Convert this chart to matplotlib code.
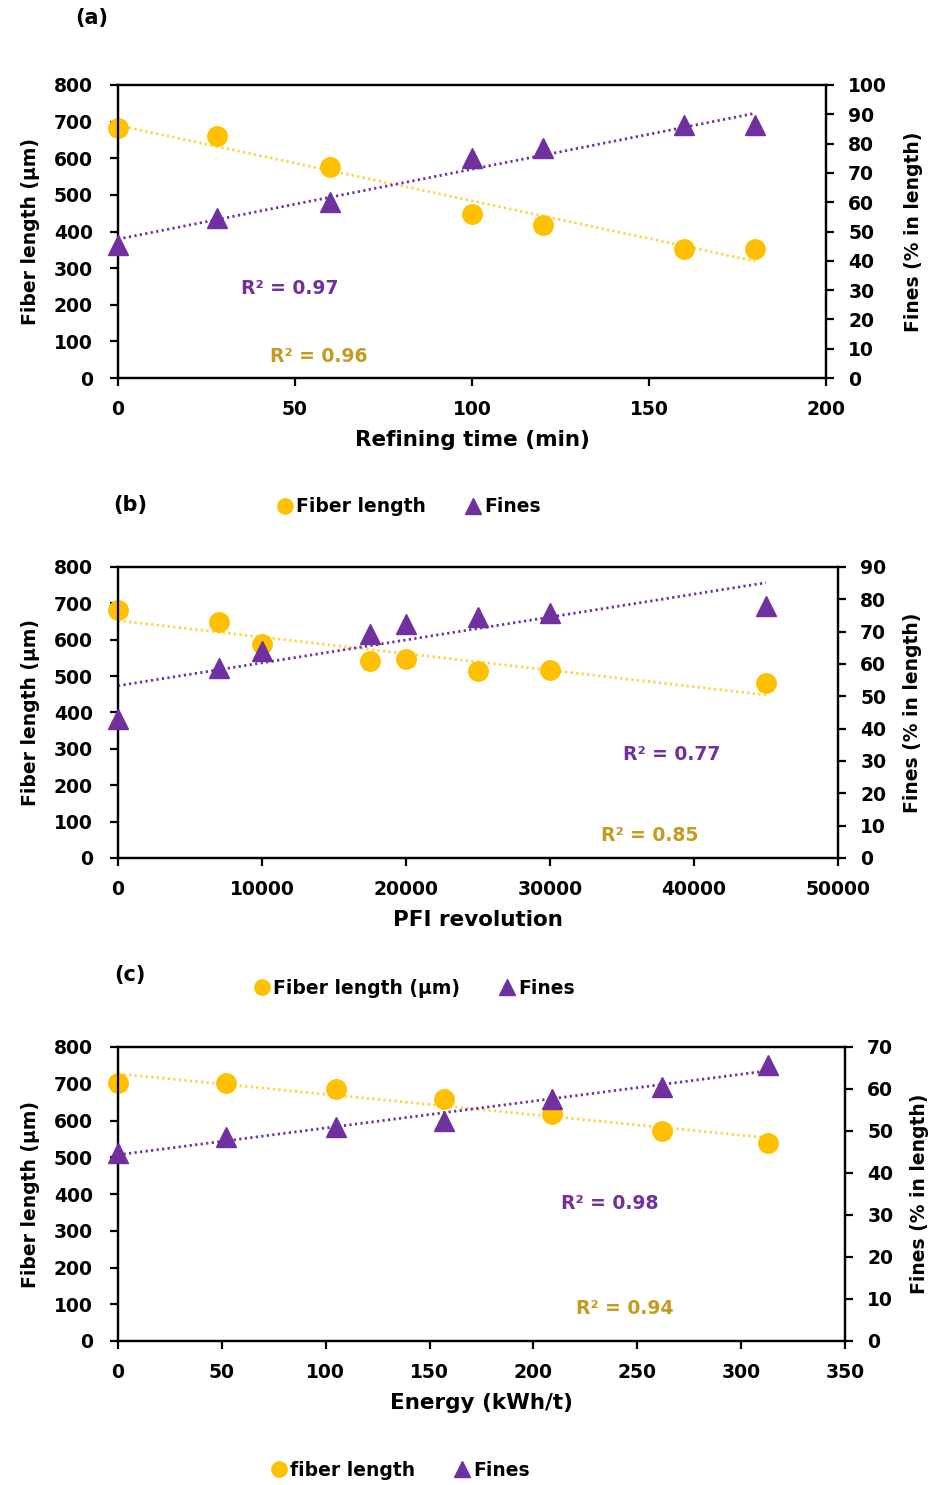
import matplotlib
matplotlib.use("Agg")
import matplotlib.pyplot as plt
from matplotlib.lines import Line2D
import numpy as np

plt.rcParams["font.family"] = ["DejaVu Sans"]
plt.rcParams["font.weight"] = "bold"

COR_FIBRA = "#FFC000"
COR_FIBRA_LINHA = "#FFD23F"
COR_FIBRA_TEXTO = "#C39B1E"
COR_FINOS = "#7030A0"

# (a) tempo de refino
tempo_min = [0, 28, 60, 100, 120, 160, 180]
fibra_a = [682, 662, 577, 448, 418, 353, 353]
finos_a = [45.5, 54.5, 60.2, 75.0, 78.4, 86.4, 86.4]

# (b) revolucoes PFI
pfi_rev = [0, 7000, 10000, 17500, 20000, 25000, 30000, 45000]
fibra_b = [683, 649, 587, 541, 546, 515, 518, 480]
finos_b = [42.9, 58.9, 64.1, 69.2, 72.3, 74.6, 75.8, 77.8]

# (c) energia
energia = [0, 52, 105, 157, 209, 262, 313]
fibra_c = [701, 703, 687, 658, 617, 572, 540]
finos_c = [44.8, 48.5, 50.9, 52.4, 57.7, 60.4, 65.8]

r2_textos = [("0.97", "0.96"), ("0.77", "0.85"), ("0.98", "0.94")]


def desenhar_painel(ax, x, fibra, finos, xlim, xpasso, y2max, xlabel, r2, pos_r2):
    ax2 = ax.twinx()

    x = np.array(x, dtype=float)
    xs = np.array([x.min(), x.max()])

    c1 = np.polyfit(x, fibra, 1)
    ax.plot(xs, np.polyval(c1, xs), ls=(0, (0.8, 1.2)), lw=2.0, color=COR_FIBRA_LINHA, zorder=2)
    ax.plot(x, fibra, "o", ms=14, color=COR_FIBRA, clip_on=False, zorder=3)

    c2 = np.polyfit(x, finos, 1)
    ax2.plot(xs, np.polyval(c2, xs), ls=(0, (0.8, 1.2)), lw=2.0, color=COR_FINOS, zorder=2)
    ax2.plot(x, finos, "^", ms=14, color=COR_FINOS, clip_on=False, zorder=3)

    ax.set_xlim(*xlim)
    ax.set_xticks(np.arange(xlim[0], xlim[1] + xpasso, xpasso))
    ax.set_ylim(0, 800)
    ax.set_yticks(np.arange(0, 801, 100))
    ax2.set_ylim(0, y2max)
    ax2.set_yticks(np.arange(0, y2max + 1, 10))

    for a in (ax, ax2):
        for s in a.spines.values():
            s.set_linewidth(1.6)
        a.tick_params(labelsize=13.5, width=1.6, length=6, pad=10)
    ax.tick_params(axis="y", pad=12)

    ax.set_xlabel(xlabel, fontsize=15.5, fontweight="bold", labelpad=8)
    ax.set_ylabel("Fiber length (\u00b5m)", fontsize=13.5, fontweight="bold", labelpad=10)
    ax2.set_ylabel("Fines (% in length)", fontsize=13.5, fontweight="bold", labelpad=12)

    (px1, py1), (px2, py2) = pos_r2
    ax.text(px1, py1, "R\u00b2 = " + r2[0], transform=ax.transAxes, ha="center", va="center",
            fontsize=13.5, fontweight="bold", color=COR_FINOS)
    ax.text(px2, py2, "R\u00b2 = " + r2[1], transform=ax.transAxes, ha="center", va="center",
            fontsize=13.5, fontweight="bold", color=COR_FIBRA_TEXTO)


def legenda(fig, rotulo_fibra, xc, yc):
    handles = [
        Line2D([], [], ls="none", marker="o", ms=11, color=COR_FIBRA),
        Line2D([], [], ls="none", marker="^", ms=11, color=COR_FINOS),
    ]
    fig.legend(handles, [rotulo_fibra, "Fines"], loc="center", bbox_to_anchor=(xc, yc),
               ncol=2, frameon=False, handletextpad=0.1, columnspacing=2.0,
               handlelength=1.0, prop={"weight": "bold", "size": 13.5})


fig = plt.figure(figsize=(9.4, 14.85), dpi=100)
W, H = 940, 1485


def caixa(x0, x1, ytop, ybot):
    return [x0 / W, 1 - ybot / H, (x1 - x0) / W, (ybot - ytop) / H]


ax_a = fig.add_axes(caixa(118, 826, 85, 378))
ax_b = fig.add_axes(caixa(118, 838, 567, 858))
ax_c = fig.add_axes(caixa(118, 845, 1047, 1341))

desenhar_painel(ax_a, tempo_min, fibra_a, finos_a, (0, 200), 50, 100,
                "Refining time (min)", r2_textos[0], ((0.243, 0.307), (0.283, 0.075)))
desenhar_painel(ax_b, pfi_rev, fibra_b, finos_b, (0, 50000), 10000, 90,
                "PFI revolution", r2_textos[1], ((0.769, 0.354), (0.739, 0.079)))
desenhar_painel(ax_c, energia, fibra_c, finos_c, (0, 350), 50, 70,
                "Energy (kWh/t)", r2_textos[2], ((0.677, 0.469), (0.697, 0.109)))

fig.text(92 / W, 1 - 18 / H, "(a)", ha="center", va="center", fontsize=15, fontweight="bold")
fig.text(130 / W, 1 - 505 / H, "(b)", ha="center", va="center", fontsize=15, fontweight="bold")
fig.text(130 / W, 1 - 975 / H, "(c)", ha="center", va="center", fontsize=15, fontweight="bold")

legenda(fig, "Fiber length", 408 / W, 1 - 507 / H)
legenda(fig, "Fiber length (\u00b5m)", 414 / W, 1 - 988 / H)
legenda(fig, "fiber length", 400 / W, 1 - 1470 / H)

fig.savefig("out.png", dpi=100)
